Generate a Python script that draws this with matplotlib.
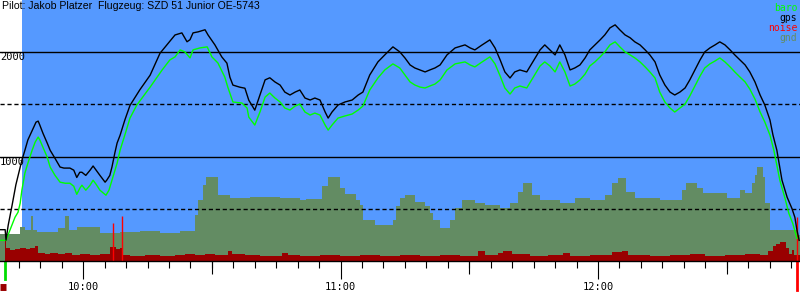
import matplotlib
matplotlib.use('Agg')
import matplotlib.pyplot as plt
from matplotlib.ticker import FixedLocator, FuncFormatter

T0 = 9 * 60 + 40  # clock minutes at t = 0

# time in minutes after 09:40, altitudes in m
gps_t = [0.6, 1.8, 2.0, 2.5, 3.4, 4.3, 5.3, 5.7, 6.4, 7.1, 8.1, 9.0, 9.5, 9.9, 10.6, 11.6, 12.3, 13.4,
         14.6, 15.5, 16.9, 17.8, 18.5, 19.2, 19.7, 20.6, 21.6, 22.3, 23.0, 23.9, 25.1, 25.5, 26.2, 26.7,
         27.4, 27.9, 28.6, 29.7, 30.9, 33.2, 35.6, 37.9, 39.5, 41.4, 43.0, 44.2, 44.9, 45.6, 46.8, 48.4,
         49.1, 50.7, 52.3, 53.5, 54.2, 54.9, 56.5, 57.7, 58.6, 60.0, 61.2, 62.4, 63.5, 64.7, 65.9, 67.0,
         68.2, 69.4, 70.5, 71.7, 72.9, 74.0, 75.2, 76.4, 77.1, 78.0, 79.4, 81.0, 82.7, 84.1, 85.2, 86.8,
         88.7, 90.3, 92.2, 93.8, 95.0, 96.2, 97.3, 98.5, 99.7, 100.8, 102.0, 103.2, 104.8, 106.7, 109.0,
         110.2, 111.3, 113.0, 114.8, 116.0, 117.2, 118.3, 119.5, 120.6, 121.8, 123.4, 124.8, 126.5, 127.6,
         128.8, 130.0, 131.1, 132.3, 133.5, 134.6, 135.8, 137.0, 138.1, 139.3, 140.5, 141.6, 142.8, 144.0,
         145.1, 146.3, 147.5, 148.6, 149.8, 151.0, 152.1, 153.3, 154.4, 155.6, 156.8, 157.9, 159.1, 160.3,
         161.4, 162.6, 163.8, 164.9, 166.1, 167.3, 168.4, 169.6, 170.8, 171.9, 173.1, 174.3, 175.4, 176.6,
         177.8, 178.9, 180.1, 180.8, 181.7, 182.9, 184.1, 185.2, 185.9, 186.4, 186.9]
gps_alt = [300, 300, 200, 340, 530, 730, 900, 965, 1060, 1160, 1250, 1330, 1340, 1300, 1225, 1130, 1060, 985,
           900, 890, 890, 870, 800, 850, 850, 820, 870, 910, 870, 820, 755, 775, 820, 900,
           1040, 1130, 1205, 1350, 1490, 1640, 1780, 1990, 2070, 2165, 2185, 2100, 2120, 2185, 2195, 2215,
           2165, 2070, 1955, 1895, 1760, 1685, 1665, 1655, 1540, 1445, 1590, 1735, 1755, 1715, 1685, 1618,
           1590, 1618, 1638, 1561, 1542, 1561, 1542, 1427, 1369, 1427, 1494, 1523, 1542, 1590, 1618, 1782,
           1907, 1974, 2051, 2003, 1945, 1878, 1849, 1830, 1811, 1830, 1849, 1878, 1974, 2041, 2070,
           2041, 2022, 2070, 2118, 2041, 1926, 1811, 1753, 1811, 1830, 1811, 1907, 2022, 2070,
           2022, 1974, 2070, 1974, 1830, 1849, 1878, 1945, 2022, 2070, 2118, 2166, 2233, 2262,
           2214, 2166, 2138, 2099, 2070, 2022, 1974, 1907, 1782, 1686, 1618, 1590, 1618, 1657,
           1734, 1830, 1926, 2003, 2041, 2070, 2099, 2070, 2022, 1974, 1926, 1878, 1811, 1715,
           1590, 1494, 1350, 1206, 1062, 774, 611, 505, 419, 294, 198]

baro_t = [0.6, 2.0, 2.9, 4.1, 4.8, 5.3, 5.7, 6.4, 7.1, 8.1, 8.8, 9.5, 9.9, 10.6, 11.6, 12.3, 13.4, 14.6,
          15.8, 16.9, 17.8, 18.5, 19.2, 19.7, 20.6, 21.6, 22.3, 23.0, 23.9, 25.3, 26.0, 26.7, 27.9, 28.6,
          29.7, 30.9, 32.5, 35.6, 38.4, 40.2, 41.4, 42.6, 43.7, 44.9, 45.6, 47.2, 48.9, 50.0, 51.4, 53.0,
          53.7, 54.9, 57.0, 58.2, 58.6, 60.0, 61.2, 62.4, 63.5, 64.7, 65.9, 67.0, 68.2, 69.4, 70.5, 71.7,
          72.9, 74.0, 75.2, 76.4, 77.1, 78.0, 79.4, 81.0, 82.7, 84.1, 85.2, 86.8, 88.7, 90.3, 92.2, 93.8,
          95.0, 96.2, 97.3, 98.5, 99.7, 100.8, 102.0, 103.2, 104.8, 106.7, 109.0, 110.2, 111.3, 113.0,
          114.8, 116.0, 117.2, 118.3, 119.5, 120.6, 121.8, 123.4, 124.8, 126.5, 127.6, 128.8, 130.0, 131.1,
          132.3, 133.5, 134.6, 135.8, 137.0, 138.1, 139.3, 140.5, 141.6, 142.8, 144.0, 145.1, 146.3, 147.5,
          148.6, 149.8, 151.0, 152.1, 153.3, 154.4, 155.6, 156.8, 157.9, 159.1, 160.3, 161.4, 162.6, 163.8,
          164.9, 166.1, 167.3, 168.4, 169.6, 170.8, 171.9, 173.1, 174.3, 175.4, 176.6, 177.8, 178.9, 180.1,
          181.0, 182.4, 183.6, 184.5, 185.4, 186.4]
baro_alt = [198, 198, 294, 419, 467, 553, 678, 841, 937, 1062, 1139, 1187, 1158, 1091, 995, 899, 822, 755,
            745, 745, 716, 639, 697, 726, 678, 726, 774, 735, 678, 630, 678, 774, 937, 1062,
            1206, 1369, 1494, 1666, 1830, 1926, 1955, 2022, 2003, 1945, 2022, 2041, 2051, 1955, 1897, 1762,
            1666, 1523, 1513, 1465, 1378, 1302, 1427, 1570, 1609, 1561, 1523, 1465, 1446, 1484, 1503, 1427,
            1398, 1417, 1398, 1302, 1254, 1302, 1369, 1389, 1408, 1446, 1484, 1638, 1753, 1830, 1888, 1849,
            1782, 1715, 1686, 1666, 1657, 1676, 1695, 1734, 1830, 1888, 1907, 1878, 1859, 1907,
            1955, 1888, 1772, 1657, 1599, 1657, 1676, 1657, 1753, 1868, 1907, 1868, 1811, 1907,
            1811, 1676, 1695, 1734, 1791, 1868, 1907, 1955, 2003, 2070, 2099, 2051, 2003, 1974,
            1945, 1907, 1859, 1811, 1753, 1618, 1523, 1465, 1427, 1465, 1503, 1580, 1676, 1772,
            1849, 1888, 1916, 1945, 1907, 1859, 1811, 1762, 1715, 1647, 1551, 1427, 1331, 1206,
            1062, 774, 601, 457, 361, 217]

gnd_t = [0.6, 5.3, 6.4, 7.8, 8.3, 9.2, 14.1, 15.8, 16.7, 18.5, 23.9, 28.6, 33.2, 37.9, 42.6, 46.1, 46.8,
         47.9, 48.6, 51.4, 54.2, 58.9, 65.9, 70.5, 71.9, 75.7, 77.1, 79.9, 81.0, 83.6, 84.5, 85.2, 88.0,
         92.2, 92.9, 93.8, 95.0, 97.3, 99.7, 100.8, 101.5, 103.2, 105.5, 106.7, 108.3, 111.3, 113.7, 117.2,
         119.5, 121.3, 122.5, 124.6, 126.5, 131.1, 134.6, 138.1, 141.6, 143.3, 144.7, 146.5, 148.6, 154.4,
         159.6, 160.5, 163.1, 164.5, 170.1, 173.1, 174.3, 175.9, 176.6, 177.1, 178.5, 178.9, 180.1, 186.4,
         187.1]
gnd_alt = [259, 326, 297, 431, 297, 278, 316, 431, 297, 326, 268, 278, 287, 268, 287, 441, 584,
           728, 805, 632, 604, 613, 604, 584, 594, 718, 805, 699, 642, 584, 536, 393, 345,
           393, 527, 604, 632, 565, 527, 460, 393, 316, 393, 508, 584, 556, 536, 508,
           556, 661, 747, 632, 584, 556, 604, 584, 632, 747, 795, 661, 604, 584,
           680, 747, 699, 651, 604, 680, 651, 747, 824, 900, 805, 556, 297, 249,
           249]

noise_t = [0.6, 1.8, 2.0, 2.9, 4.1, 5.3, 6.7, 7.6, 8.8, 9.5, 11.1, 12.3, 14.1, 15.8, 17.4, 19.2, 21.6,
           23.9, 26.2, 27.6, 28.6, 29.3, 30.9, 34.4, 37.9, 41.4, 43.7, 46.1, 48.4, 50.7, 53.7, 54.7, 57.7,
           61.2, 66.3, 67.7, 70.5, 75.2, 79.9, 84.5, 89.2, 93.8, 98.5, 103.2, 107.8, 112.0, 113.7, 116.7,
           117.9, 119.9, 124.1, 128.3, 131.8, 133.5, 138.1, 143.3, 145.6, 147.0, 152.1, 156.8, 161.4, 164.9,
           169.6, 174.3, 177.8, 179.6, 180.8, 181.5, 182.4, 183.9, 184.5, 185.2, 185.7, 186.4, 187.1]
noise_v = [0, 201, 125, 105, 115, 125, 115, 125, 144, 77, 67, 77, 67, 77, 57, 67, 57,
           67, 134, 115, 125, 57, 48, 57, 48, 57, 67, 57, 67, 57, 96, 67, 57,
           48, 77, 57, 48, 57, 48, 57, 48, 57, 48, 57, 48, 96, 57, 77,
           96, 67, 48, 57, 77, 48, 57, 86, 96, 57, 48, 57, 67, 48,
           57, 67, 57, 96, 144, 163, 182, 125, 67, 105, 57, 57, 57]

# bright red noise peaks
peak_t = [27.0, 29.1, 186.5]
peak_v = [364, 431, 421]

sky_start, t_end = 5.7, 187.1
takeoff_t, landing_t = 1.8, 186.5

fig = plt.figure(figsize=(8, 3), dpi=100)
ax = fig.add_axes([0, 0.13, 1, 0.87])
ax.set_xlim(0.6, t_end)
ax.set_ylim(0, 2500)

ax.axvspan(sky_start, t_end, color='#5599ff', zorder=0, lw=0)
ax.fill_between(gnd_t, gnd_alt, 0, step='post', color='#638c63', lw=0, zorder=1)
ax.fill_between(noise_t, noise_v, 0, step='post', color='#990000', lw=0, zorder=2)
ax.vlines(peak_t, 0, peak_v, color='#ff0000', lw=1, zorder=3)

for lvl in [1000, 2000]:
    ax.axhline(lvl, color='black', lw=1, zorder=4)
for lvl in [500, 1500]:
    ax.axhline(lvl, color='black', lw=1, ls=(0, (3, 2)), zorder=4)

ax.plot(baro_t, baro_alt, color='#00ff00', lw=1.0, zorder=5)
ax.plot(gps_t, gps_alt, color='black', lw=1.0, zorder=6)

mono = 'DejaVu Sans Mono'
ytr = ax.get_yaxis_transform()
for lvl in [1000, 2000]:
    ax.text(0.0, lvl, str(lvl), transform=ytr, va='top', ha='left',
            family=mono, fontsize=7.5, zorder=7)

ax.text(0.002, 0.995, 'Pilot: Jakob Platzer  Flugzeug: SZD 51 Junior OE-5743', transform=ax.transAxes,
        va='top', ha='left', fontsize=7.6, family='Liberation Sans', zorder=7)

legend = [('baro', '#00ff00'), ('gps', 'black'), ('noise', '#ff0000'), ('gnd', '#638c63')]
for k, (name, col) in enumerate(legend):
    ax.annotate(name, xy=(1, 1), xycoords='axes fraction', xytext=(-2, -2 - 7.2 * k),
                textcoords='offset points', ha='right', va='top', color=col, family=mono,
                fontsize=7, zorder=7)

# axes and ticks
for s in ['left', 'right', 'top']:
    ax.spines[s].set_visible(False)
ax.spines['bottom'].set_color('black')
ax.spines['bottom'].set_linewidth(1)
ax.spines['bottom'].set_zorder(8)
ax.set_yticks([])
ax.xaxis.set_major_locator(FixedLocator([20, 80, 140]))
ax.xaxis.set_minor_locator(FixedLocator(list(range(5, 190, 5))))
ax.xaxis.set_major_formatter(FuncFormatter(lambda t, p: '%d:%02d' % ((T0 + t) // 60, (T0 + t) % 60)))
ax.tick_params(which='major', length=13, width=0.8, pad=2, labelsize=7.5)
ax.tick_params(which='minor', length=4.7, width=0.8)
for lab in ax.get_xticklabels():
    lab.set_family(mono)
xtr = ax.get_xaxis_transform()
ax.vlines([50, 110, 170], -13 / 261, 0, transform=xtr, color='black', lw=0.8, clip_on=False)

# takeoff / landing markers below the axis
ax.plot([takeoff_t, takeoff_t], [-0.003, -0.07], transform=xtr, color='#00dd00', lw=2, clip_on=False)
ax.plot([landing_t, landing_t], [-0.003, -0.11], transform=xtr, color='#ff0000', lw=2, clip_on=False)
ax.plot([0.6, takeoff_t + 0.1], [-0.1, -0.1], transform=xtr, color='#990000', lw=5, clip_on=False,
        solid_capstyle='butt')

fig.savefig('out.png', dpi=100)
